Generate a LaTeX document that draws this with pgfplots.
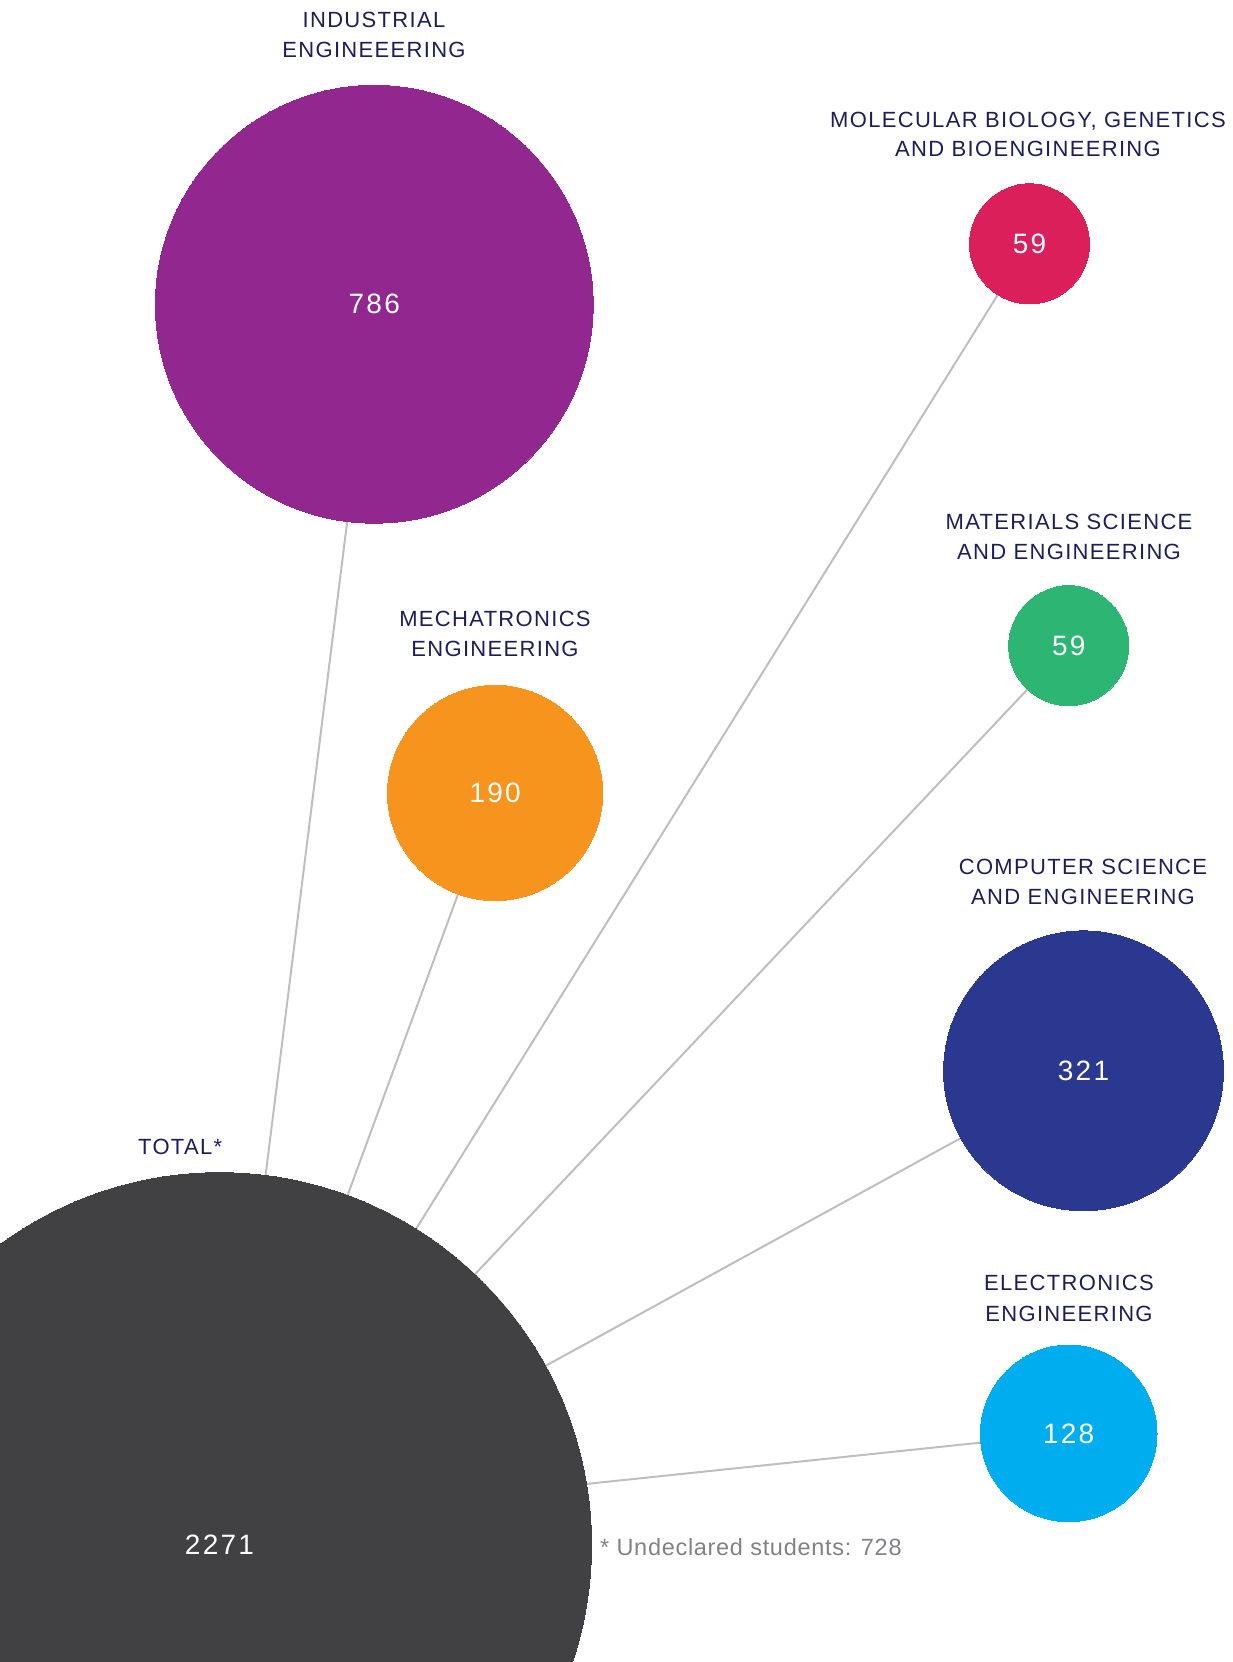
\documentclass[border=0pt]{standalone}
\usepackage{fontspec}
\setmainfont{Liberation Sans}
\newfontfamily\labfont[LetterSpace=6]{Liberation Sans}
\newfontfamily\numfont[LetterSpace=8]{Liberation Sans}
\newfontfamily\notefont[LetterSpace=3]{Liberation Sans}
\usepackage{pgfplots}
\pgfplotsset{compat=1.18}
\definecolor{totalc}{HTML}{414042}
\definecolor{indc}{HTML}{92278F}
\definecolor{molc}{HTML}{DA1F5B}
\definecolor{matc}{HTML}{2DB573}
\definecolor{mecc}{HTML}{F7941D}
\definecolor{comc}{HTML}{2B388F}
\definecolor{elec}{HTML}{00AEEF}
\definecolor{linec}{HTML}{BCBEC0}
\definecolor{labc}{HTML}{1C1D5A}
\definecolor{notec}{HTML}{808285}
\newcommand{\lab}[1]{{\fontsize{22}{26}\selectfont\labfont #1}}
\newcommand{\val}[1]{{\fontsize{28}{30}\selectfont\numfont #1}}
\begin{document}
\begin{tikzpicture}
\begin{axis}[
  at={(0,0)}, anchor=south west,
  scale only axis, width=1233pt, height=1662pt,
  xmin=0, xmax=1233, ymin=0, ymax=1662,
  hide axis, clip=true, clip marker paths=true,
  bubble/.style={only marks, mark=*, mark options={draw=#1, fill=#1, line width=0pt}},
]
% connecting lines (total -> department)
\addplot[linec, line width=2pt] coordinates {(219.5,117.3) (374.3,1357.7)};
\addplot[linec, line width=2pt] coordinates {(219.5,117.3) (1029.5,1418.2)};
\addplot[linec, line width=2pt] coordinates {(219.5,117.3) (1068.7,1016.3)};
\addplot[linec, line width=2pt] coordinates {(219.5,117.3) (495.1,869.0)};
\addplot[linec, line width=2pt] coordinates {(219.5,117.3) (1083.5,591.2)};
\addplot[linec, line width=2pt] coordinates {(219.5,139.6) (1068.7,228.6)};
% bubbles, area proportional to the value
\addplot[bubble=totalc, mark size=372pt] coordinates {(219.5,117.3)};
\addplot[bubble=indc, mark size=218.9pt] coordinates {(374.3,1357.7)};
\addplot[bubble=molc, mark size=60pt] coordinates {(1029.5,1418.2)};
\addplot[bubble=matc, mark size=60pt] coordinates {(1068.7,1016.3)};
\addplot[bubble=mecc, mark size=107.6pt] coordinates {(495.1,869.0)};
\addplot[bubble=comc, mark size=139.9pt] coordinates {(1083.5,591.2)};
\addplot[bubble=elec, mark size=88.3pt] coordinates {(1068.7,228.6)};
% values
\node[white] at (axis cs:219.5,117.3) {\val{2271}};
\node[white] at (axis cs:374.3,1357.7) {\val{786}};
\node[white] at (axis cs:1029.5,1418.2) {\val{59}};
\node[white] at (axis cs:1068.7,1016.3) {\val{59}};
\node[white] at (axis cs:495.1,869.0) {\val{190}};
\node[white] at (axis cs:1083.5,591.2) {\val{321}};
\node[white] at (axis cs:1068.7,228.6) {\val{128}};
% labels
\begin{scope}[every node/.style={text=labc, anchor=base, inner sep=0pt}]
\node at (axis cs:374,1634) {\lab{INDUSTRIAL}};
\node at (axis cs:374,1604) {\lab{ENGINEEERING}};
\node at (axis cs:1028,1534) {\lab{MOLECULAR BIOLOGY, GENETICS}};
\node at (axis cs:1028,1505) {\lab{AND BIOENGINEERING}};
\node at (axis cs:1069,1132) {\lab{MATERIALS SCIENCE}};
\node at (axis cs:1069,1102) {\lab{AND ENGINEERING}};
\node at (axis cs:495,1035) {\lab{MECHATRONICS}};
\node at (axis cs:495,1005) {\lab{ENGINEERING}};
\node at (axis cs:1083,787) {\lab{COMPUTER SCIENCE}};
\node at (axis cs:1083,757) {\lab{AND ENGINEERING}};
\node at (axis cs:1069,371) {\lab{ELECTRONICS}};
\node at (axis cs:1069,340) {\lab{ENGINEERING}};
\node[anchor=base west] at (axis cs:138,507) {\lab{TOTAL*}};
\node[anchor=base west, text=notec] at (axis cs:600,106) {\fontsize{23.5}{27}\selectfont\notefont * Undeclared students: 728};
\end{scope}
\end{axis}
\pgfresetboundingbox
\path[use as bounding box] (0,0) rectangle (1233pt,1662pt);
\end{tikzpicture}
\end{document}
